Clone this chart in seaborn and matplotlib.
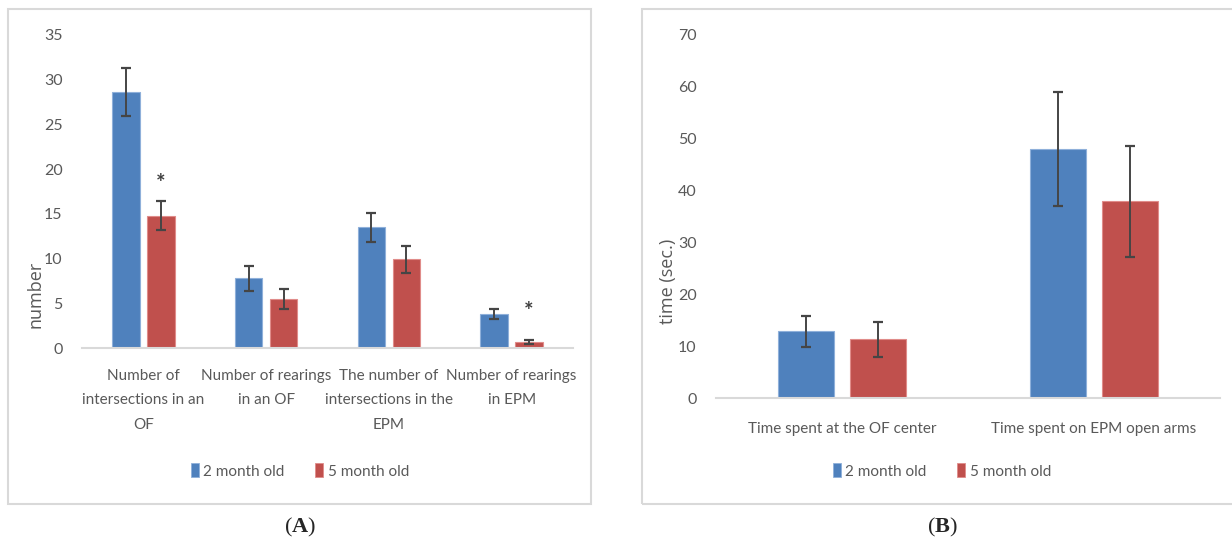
import numpy as np
import pandas as pd
import matplotlib
matplotlib.use('Agg')
import matplotlib.pyplot as plt
import matplotlib.patches as mpatches
import seaborn as sns

# Data (means and error half-widths)
groups = ['2 month old', '5 month old']
colors = ['#4F81BD', '#C0504D']
edges = ['#8FB0DA', '#E08C8A']

cats_a = ['Number of\nintersections in an\nOF', 'Number of rearings\nin an OF',
          'The number of\nintersections in the\nEPM', 'Number of rearings\nin EPM']
young_a = [28.6, 7.8, 13.5, 3.8]
young_a_err = [2.7, 1.4, 1.6, 0.6]
old_a = [14.8, 5.5, 9.9, 0.7]
old_a_err = [1.65, 1.15, 1.5, 0.2]
stars_a = [18.4, None, None, 4.1]   # asterisk height over 5 month bars

cats_b = ['Time spent at the OF center', 'Time spent on EPM open arms']
young_b = [12.8, 47.9]
young_b_err = [3.0, 10.9]
old_b = [11.3, 37.8]
old_b_err = [3.4, 10.7]

sns.set_theme(style='white')
plt.rcParams['font.family'] = ['Lato', 'DejaVu Sans']
plt.rcParams['mathtext.fontset'] = 'custom'
plt.rcParams['mathtext.rm'] = 'Liberation Serif'
plt.rcParams['mathtext.bf'] = 'Liberation Serif:bold'
TXT = '#595959'
W, H = 1232, 542


def make_df(cats, y, o):
    return pd.DataFrame({
        'measure': list(cats) * 2,
        'group': [groups[0]] * len(cats) + [groups[1]] * len(cats),
        'value': list(y) + list(o),
    })


def draw_panel(ax, cats, y, ye, o, oe, ymax, step, pad):
    df = make_df(cats, y, o)
    sns.barplot(data=df, x='measure', y='value', hue='group', hue_order=groups,
                palette=colors, saturation=1, width=0.57, gap=0.22, errorbar=None,
                legend=False, ax=ax, linewidth=0.8)
    for cont, ec, err in zip(ax.containers, edges, [ye, oe]):
        xs = [b.get_x() + b.get_width() / 2 for b in cont]
        hs = [b.get_height() for b in cont]
        for b in cont:
            b.set_edgecolor(ec)
        ax.errorbar(xs, hs, yerr=err, fmt='none', ecolor='#454545',
                    elinewidth=1.4, capsize=3.5, capthick=1.6, zorder=5)
    ax.set_ylim(0, ymax)
    ax.set_xlim(-0.5, len(cats) - 0.5)
    ax.set_yticks(np.arange(0, ymax + 1, step))
    ax.set_xlabel('')
    ax.set_ylabel('')
    for s in ['top', 'right', 'left']:
        ax.spines[s].set_visible(False)
    ax.spines['bottom'].set_color('#D9D9D9')
    ax.spines['bottom'].set_linewidth(1.5)
    ax.tick_params(axis='y', length=0, pad=14, labelsize=11.5, labelcolor=TXT)
    ax.tick_params(axis='x', length=0, pad=pad, labelsize=11, labelcolor=TXT)
    for t in ax.get_xticklabels():
        t.set_linespacing(1.95)
    ax.patch.set_alpha(0)


fig = plt.figure(figsize=(W / 100, H / 100), dpi=100)

# panel frames
for x0, x1 in [(8, 591), (642, 1240)]:
    fig.patches.append(mpatches.Rectangle((x0 / W, 1 - 504 / H), (x1 - x0) / W, (504 - 9) / H,
                                          transform=fig.transFigure, fill=False,
                                          edgecolor='#D9D9D9', linewidth=1.5))

ax1 = fig.add_axes([82 / W, 1 - 348 / H, (573 - 82) / W, (348 - 35) / H])
draw_panel(ax1, cats_a, young_a, young_a_err, old_a, old_a_err, 35, 5, 15)
red_bars = ax1.containers[1]
for b, s in zip(red_bars, stars_a):
    if s is not None:
        ax1.text(b.get_x() + b.get_width() / 2, s, '*', ha='center', va='center',
                 fontsize=16, color='#404040', fontweight='bold')

ax2 = fig.add_axes([716 / W, 1 - 398 / H, (1220 - 716) / W, (398 - 34) / H])
draw_panel(ax2, cats_b, young_b, young_b_err, old_b, old_b_err, 70, 10, 17)

# axis titles
fig.text(35 / W, 1 - 294 / H, 'number', rotation=90, ha='center', va='center',
         fontsize=13, color=TXT, family=['Open Sans', 'DejaVu Sans'])
fig.text(668 / W, 1 - 281 / H, 'time (sec.)', rotation=90, ha='center', va='center',
         fontsize=13, color=TXT, family=['Open Sans', 'DejaVu Sans'])

# legends
handles = [mpatches.Patch(facecolor=c, edgecolor=e, linewidth=0.6, label=g)
           for c, e, g in zip(colors, edges, groups)]
for cx in [300, 942]:
    fig.legend(handles=handles, loc='center', bbox_to_anchor=(cx / W, 1 - 471 / H),
               ncol=2, frameon=False, fontsize=11, handlelength=0.5, handleheight=1.0,
               handletextpad=0.3, columnspacing=2.0, labelcolor=TXT)

# panel letters
for cx, lab in [(300, 'A'), (942, 'B')]:
    fig.text(cx / W, 1 - 527 / H, '(' + r'$\mathbf{' + lab + '}$' + ')', ha='center',
             va='center', fontsize=16, family=['Liberation Serif', 'DejaVu Serif'])

fig.savefig('out.png', dpi=100)
